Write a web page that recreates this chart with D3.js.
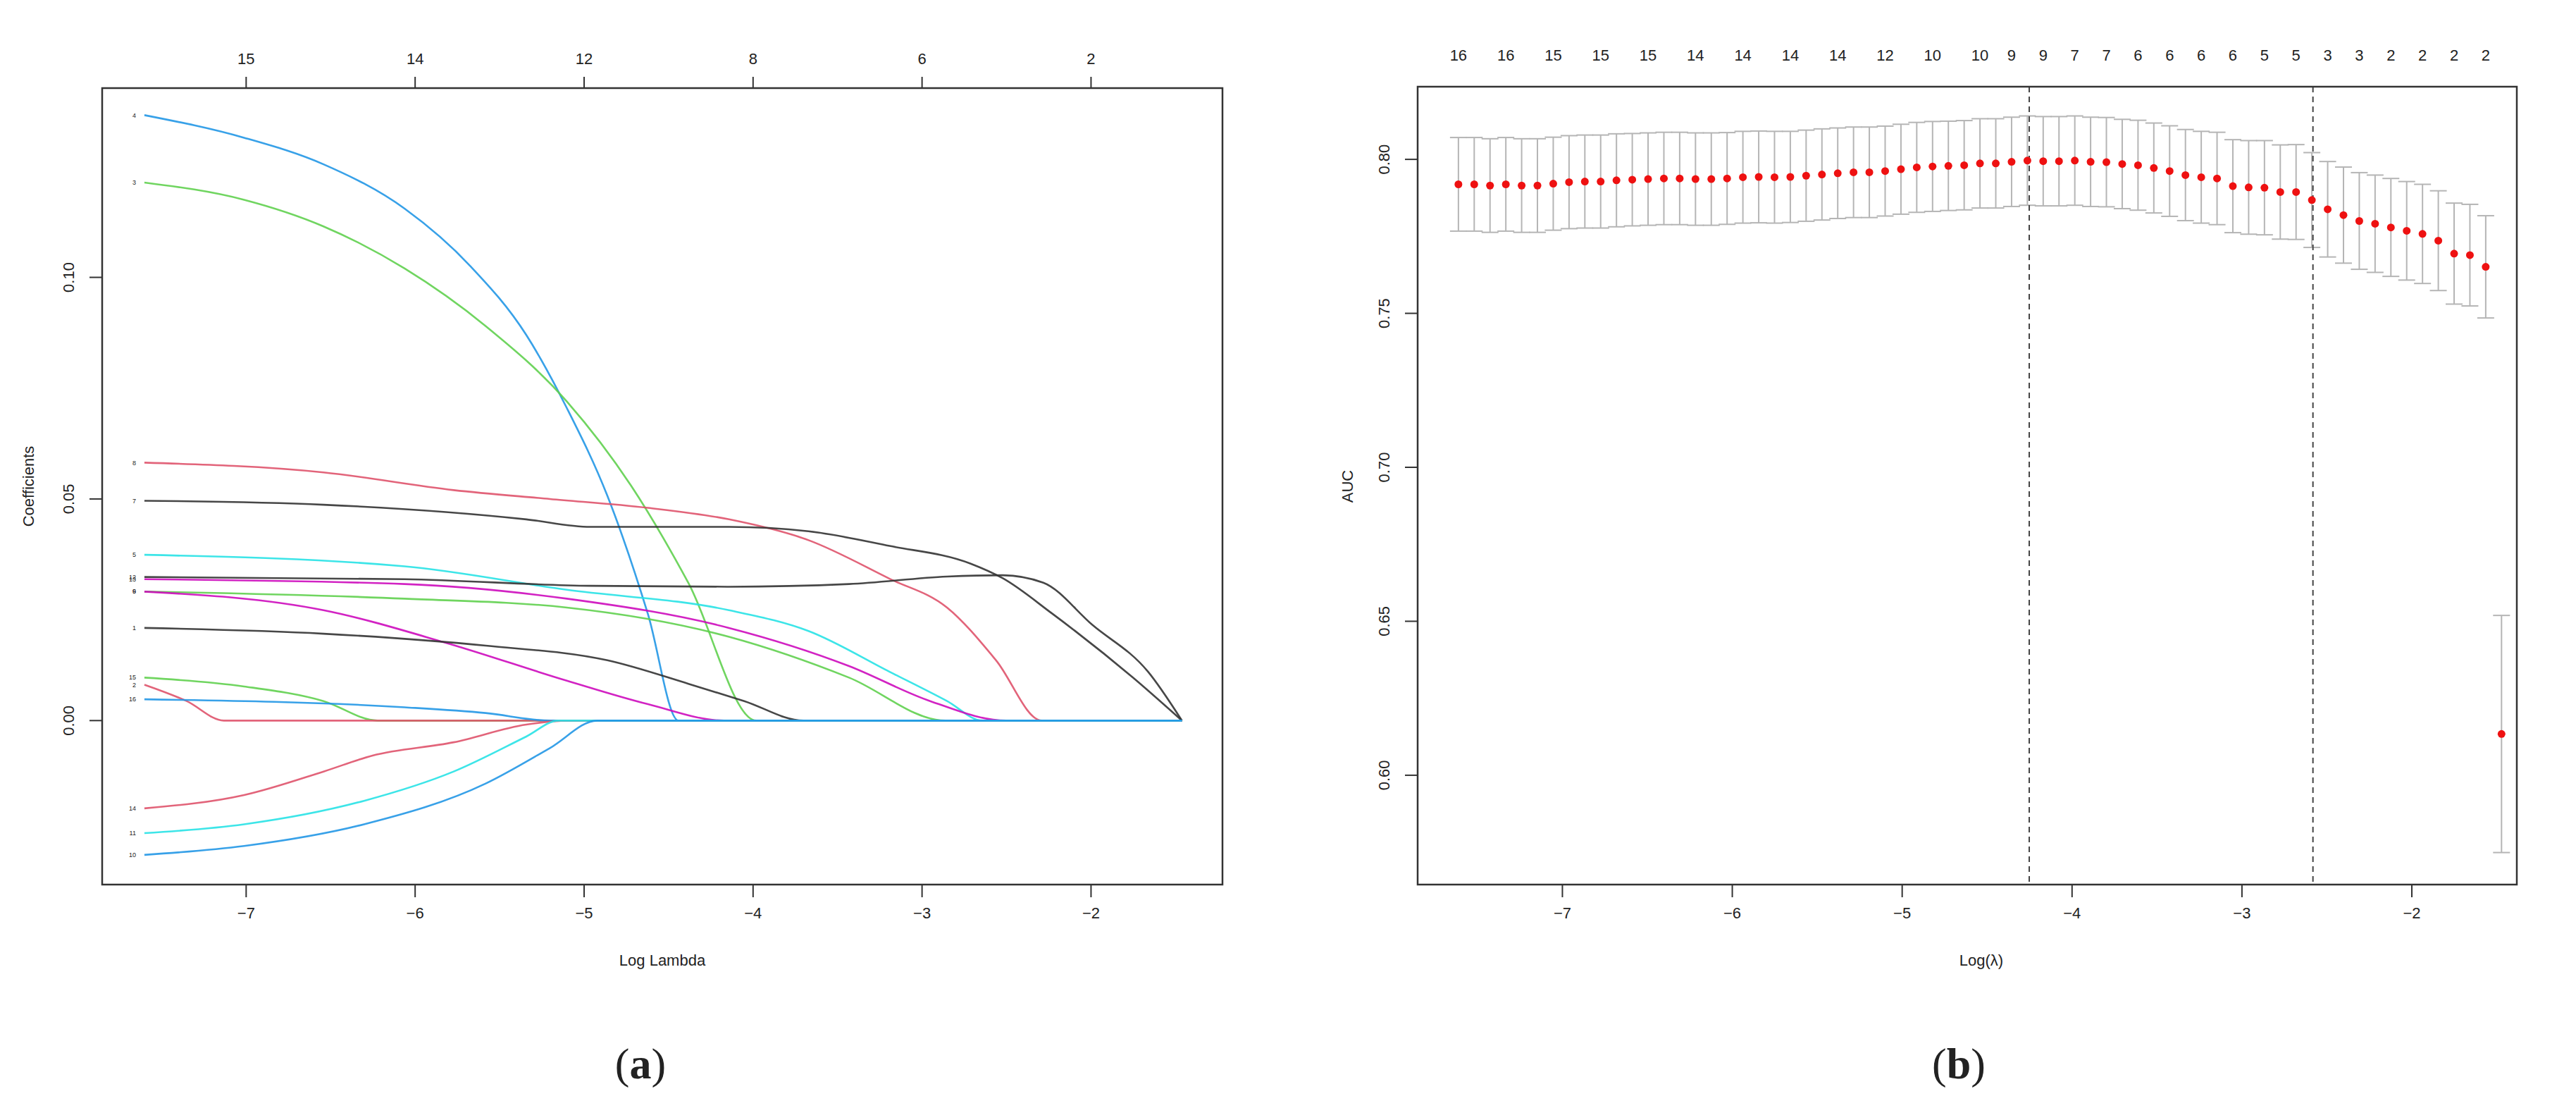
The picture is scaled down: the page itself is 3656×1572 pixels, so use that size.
<!DOCTYPE html>
<html>
<head>
<meta charset="utf-8">
<script src="https://cdn.jsdelivr.net/npm/d3@7"></script>
<style>
  body { margin: 0; background: #fff; }
  text { font-family: "Liberation Sans", Arial, sans-serif; fill: #222; }
</style>
</head>
<body>
<script>
// ---- data: (a) coefficient paths, points are [logLambda, coefficient]
const pathNames = ["4", "3", "8", "7", "5", "12", "13", "9", "6", "1", "15", "2", "16", "14", "11", "10"];
const pathColors = ["#2297E6", "#61D04F", "#DF536B", "#333333", "#28E2E5", "#333333", "#CD0BBC", "#61D04F",
  "#CD0BBC", "#333333", "#61D04F", "#DF536B", "#2297E6", "#DF536B", "#28E2E5", "#2297E6"];
const pathPoints = [
  [[-7.6, 0.1366], [-7.01, 0.1315], [-6.54, 0.1255], [-6.06, 0.1155], [-5.67, 0.1025], [-5.34, 0.087], [-5.1, 0.0705], [-4.86, 0.0507], [-4.62, 0.024], [-4.44, 0]],
  [[-7.6, 0.1214], [-7.01, 0.1175], [-6.54, 0.1115], [-6.06, 0.102], [-5.58, 0.089], [-5.1, 0.072], [-4.72, 0.053], [-4.38, 0.031], [-3.98, 0]],
  [[-7.6, 0.0582], [-6.54, 0.056], [-5.77, 0.052], [-5.2, 0.050], [-4.62, 0.048], [-4.14, 0.0454], [-3.67, 0.0407], [-3.19, 0.032], [-2.85, 0.0255], [-2.56, 0.0136], [-2.29, 0]],
  [[-7.6, 0.0496], [-6.54, 0.0487], [-5.34, 0.0454], [-4.96, 0.0437], [-4.14, 0.0437], [-3.67, 0.0427], [-3.19, 0.0394], [-2.71, 0.0354], [-2.52, 0.0321], [-2.23, 0.0242], [-1.75, 0.0097], [-1.46, 0]],
  [[-7.6, 0.0374], [-6.06, 0.0348], [-5.1, 0.0295], [-4.14, 0.0249], [-3.67, 0.0202], [-3.19, 0.011], [-2.85, 0.0044], [-2.64, 0]],
  [[-7.6, 0.0324], [-6.06, 0.0319], [-4.96, 0.0304], [-4.14, 0.0302], [-3.43, 0.0308], [-2.85, 0.0325], [-2.52, 0.0328], [-2.28, 0.0311], [-1.99, 0.0216], [-1.66, 0.011], [-1.46, 0]],
  [[-7.6, 0.0319], [-6.06, 0.0308], [-5.1, 0.0275], [-4.14, 0.0209], [-3.43, 0.0123], [-2.95, 0.0044], [-2.5, 0]],
  [[-7.6, 0.0291], [-6.06, 0.0275], [-5.1, 0.0255], [-4.14, 0.0189], [-3.43, 0.0097], [-2.86, 0]],
  [[-7.6, 0.0291], [-6.54, 0.0249], [-5.82, 0.0176], [-5.1, 0.009], [-4.62, 0.0037], [-4.17, 0]],
  [[-7.6, 0.0209], [-6.54, 0.0196], [-5.58, 0.0169], [-4.86, 0.0136], [-4.38, 0.0083], [-4.05, 0.0044], [-3.7, 0]],
  [[-7.6, 0.0097], [-7.01, 0.0077], [-6.54, 0.0044], [-6.22, 0]],
  [[-7.6, 0.0081], [-7.35, 0.0044], [-7.13, 0]],
  [[-7.6, 0.0048], [-6.06, 0.003], [-5.58, 0.0017], [-5.2, 0]],
  [[-7.6, -0.0198], [-7.01, -0.0168], [-6.54, -0.0115], [-6.25, -0.0079], [-5.77, -0.0049], [-5.34, -0.0009], [-5.1, 0]],
  [[-7.6, -0.0254], [-7.01, -0.0234], [-6.3, -0.0181], [-5.77, -0.0115], [-5.34, -0.0036], [-5.15, 0]],
  [[-7.6, -0.0303], [-7.01, -0.0283], [-6.3, -0.0234], [-5.58, -0.0142], [-5.2, -0.0062], [-4.92, 0]]
];
const pathEnd = -1.46;
const pathTopTicks = [-7, -6, -5, -4, -3, -2];
const pathTopLabels = ["15", "14", "12", "8", "6", "2"];

// ---- data: (b) cross-validated AUC
const cvLambdaStart = -7.61, cvLambdaEnd = -1.47;
const cvMean = [0.7919, 0.7919, 0.7915, 0.7919, 0.7915, 0.7915, 0.7921, 0.7926, 0.7928, 0.7928,
  0.7932, 0.7934, 0.7936, 0.7938, 0.7938, 0.7936, 0.7936, 0.7938, 0.7942, 0.7943,
  0.7942, 0.7943, 0.7947, 0.7951, 0.7955, 0.7958, 0.7958, 0.7962, 0.7968, 0.7974,
  0.7977, 0.7979, 0.7981, 0.7987, 0.7987, 0.7992, 0.7996, 0.7994, 0.7994, 0.7996,
  0.7992, 0.7991, 0.7985, 0.7981, 0.7972, 0.7962, 0.7949, 0.7942, 0.7938, 0.7913,
  0.7909, 0.7908, 0.7894, 0.7894, 0.7868, 0.7838, 0.7819, 0.7800, 0.7791, 0.7779,
  0.7768, 0.7758, 0.7736, 0.7694, 0.7689, 0.7651, 0.6134];
const cvSe = [0.0152, 0.0152, 0.0152, 0.0152, 0.0152, 0.0152, 0.0151, 0.0151, 0.0151, 0.0151,
  0.0151, 0.0150, 0.0150, 0.0150, 0.0150, 0.0150, 0.0150, 0.0149, 0.0149, 0.0149,
  0.0149, 0.0148, 0.0148, 0.0148, 0.0147, 0.0147, 0.0147, 0.0146, 0.0146, 0.0146,
  0.0146, 0.0145, 0.0145, 0.0145, 0.0145, 0.0145, 0.0145, 0.0145, 0.0145, 0.0145,
  0.0145, 0.0145, 0.0145, 0.0146, 0.0146, 0.0147, 0.0148, 0.0149, 0.0150, 0.0151,
  0.0152, 0.0153, 0.0153, 0.0154, 0.0154, 0.0155, 0.0156, 0.0157, 0.0158, 0.0159,
  0.0160, 0.0161, 0.0162, 0.0164, 0.0165, 0.0166, 0.0385];
const cvTopIdx = [0, 3, 6, 9, 12, 15, 18, 21, 24, 27, 30, 33, 35, 37, 39, 41, 43, 45, 47, 49, 51, 53, 55, 57, 59, 61, 63, 65];
const cvTopLabels = ["16", "16", "15", "15", "15", "14", "14", "14", "14", "12", "10", "10",
  "9", "9", "7", "7", "6", "6", "6", "6", "5", "5", "3", "3", "2", "2", "2", "2"];
const cvVLines = [-4.25, -2.58];

const svg = d3.select("body").append("svg").attr("width", 3656).attr("height", 1572);

function frame(g, x, y, w, h) {
  g.append("rect").attr("x", x).attr("y", y).attr("width", w).attr("height", h)
    .attr("fill", "none").attr("stroke", "#333").attr("stroke-width", 2.5);
}

// R-style axes: bottom ticks and rotated left labels
function rAxes(g, xs, ys, yTicks, left, bottom) {
  const xa = g.append("g").attr("transform", `translate(0,${bottom})`)
    .call(d3.axisBottom(xs).tickValues([-7, -6, -5, -4, -3, -2]).tickFormat(d3.format("d")).tickSize(18).tickPadding(14));
  xa.select(".domain").remove();
  xa.selectAll("line").attr("stroke", "#333").attr("stroke-width", 2);
  xa.selectAll("text").style("font-size", "22px").attr("fill", "#222");
  g.selectAll(".ytk").data(yTicks).join("line")
    .attr("x1", left - 18).attr("x2", left).attr("y1", d => ys(d)).attr("y2", d => ys(d))
    .attr("stroke", "#333").attr("stroke-width", 2);
  g.selectAll(".ylb").data(yTicks).join("text")
    .attr("transform", d => `translate(${left - 40},${ys(d)}) rotate(-90)`)
    .attr("text-anchor", "middle").style("font-size", "22px").text(d3.format(".2f"));
}

// ======== (a) ========
const a = svg.append("g");
const ax = d3.scaleLinear().domain([-7.85, -1.22]).range([145, 1735]);
const ay = d3.scaleLinear().domain([-0.037, 0.1427]).range([1255, 125]);
const line = d3.line().x(d => ax(d[0])).y(d => ay(d[1])).curve(d3.curveMonotoneX);

pathPoints.forEach((pts, i) => {
  const full = pts.slice();
  if (full[full.length - 1][0] < pathEnd) full.push([pathEnd, 0]);
  a.append("path").attr("d", line(full)).attr("fill", "none")
    .attr("stroke", pathColors[i]).attr("stroke-width", 2.6).attr("opacity", 0.9);
  a.append("text").attr("x", ax(pts[0][0]) - 12).attr("y", ay(pts[0][1]))
    .attr("dy", "0.35em").attr("text-anchor", "end").style("font-size", "9px").text(pathNames[i]);
});
frame(a, 145, 125, 1590, 1130);
rAxes(a, ax, ay, [0, 0.05, 0.1], 145, 1255);
const aTop = a.append("g").attr("transform", "translate(0,125)")
  .call(d3.axisTop(ax).tickValues(pathTopTicks).tickFormat((d, i) => pathTopLabels[i]).tickSize(16).tickPadding(18));
aTop.select(".domain").remove();
aTop.selectAll("line").attr("stroke", "#333").attr("stroke-width", 2);
aTop.selectAll("text").style("font-size", "22px").attr("fill", "#222");
a.append("text").attr("x", 940).attr("y", 1370).attr("text-anchor", "middle").style("font-size", "22px").text("Log Lambda");
a.append("text").attr("transform", "translate(48,690) rotate(-90)").attr("text-anchor", "middle").style("font-size", "22px").text("Coefficients");
a.append("text").attr("x", 909).attr("y", 1530).attr("text-anchor", "middle")
  .style("font-family", "'Liberation Serif', serif").style("font-size", "62px")
  .html("(<tspan font-weight='bold'>a</tspan>)");

// ======== (b) ========
const b = svg.append("g");
const bx = d3.scaleLinear().domain([-7.85, -1.38]).range([2012, 3572]);
const by = d3.scaleLinear().domain([0.5645, 0.8236]).range([1255, 123]);
const lamStep = (cvLambdaEnd - cvLambdaStart) / (cvMean.length - 1);
const cv = cvMean.map((m, i) => ({ lam: cvLambdaStart + i * lamStep, m, se: cvSe[i] }));
const cap = 12;
const eb = b.append("g").attr("stroke", "#b5b5b5").attr("stroke-width", 2);
eb.selectAll(".v").data(cv).join("line")
  .attr("x1", d => bx(d.lam)).attr("x2", d => bx(d.lam))
  .attr("y1", d => by(d.m + d.se)).attr("y2", d => by(d.m - d.se));
eb.selectAll(".u").data(cv).join("line")
  .attr("x1", d => bx(d.lam) - cap).attr("x2", d => bx(d.lam) + cap)
  .attr("y1", d => by(d.m + d.se)).attr("y2", d => by(d.m + d.se));
eb.selectAll(".l").data(cv).join("line")
  .attr("x1", d => bx(d.lam) - cap).attr("x2", d => bx(d.lam) + cap)
  .attr("y1", d => by(d.m - d.se)).attr("y2", d => by(d.m - d.se));
b.selectAll(".vl").data(cvVLines).join("line")
  .attr("x1", d => bx(d)).attr("x2", d => bx(d)).attr("y1", 123).attr("y2", 1255)
  .attr("stroke", "#444").attr("stroke-width", 2).attr("stroke-dasharray", "8,6");
b.selectAll(".pt").data(cv).join("circle")
  .attr("cx", d => bx(d.lam)).attr("cy", d => by(d.m)).attr("r", 5.5).attr("fill", "#ee1111");
frame(b, 2012, 123, 1560, 1132);
rAxes(b, bx, by, [0.6, 0.65, 0.7, 0.75, 0.8], 2012, 1255);
b.selectAll(".top").data(cvTopIdx).join("text")
  .attr("x", i => bx(cv[i].lam)).attr("y", 86).attr("text-anchor", "middle")
  .style("font-size", "22px").text((d, k) => cvTopLabels[k]);
b.append("text").attr("x", 2812).attr("y", 1370).attr("text-anchor", "middle").style("font-size", "22px").text("Log(λ)");
b.append("text").attr("transform", "translate(1920,690) rotate(-90)").attr("text-anchor", "middle").style("font-size", "22px").text("AUC");
b.append("text").attr("x", 2780).attr("y", 1530).attr("text-anchor", "middle")
  .style("font-family", "'Liberation Serif', serif").style("font-size", "62px")
  .html("(<tspan font-weight='bold'>b</tspan>)");
</script>
</body>
</html>
